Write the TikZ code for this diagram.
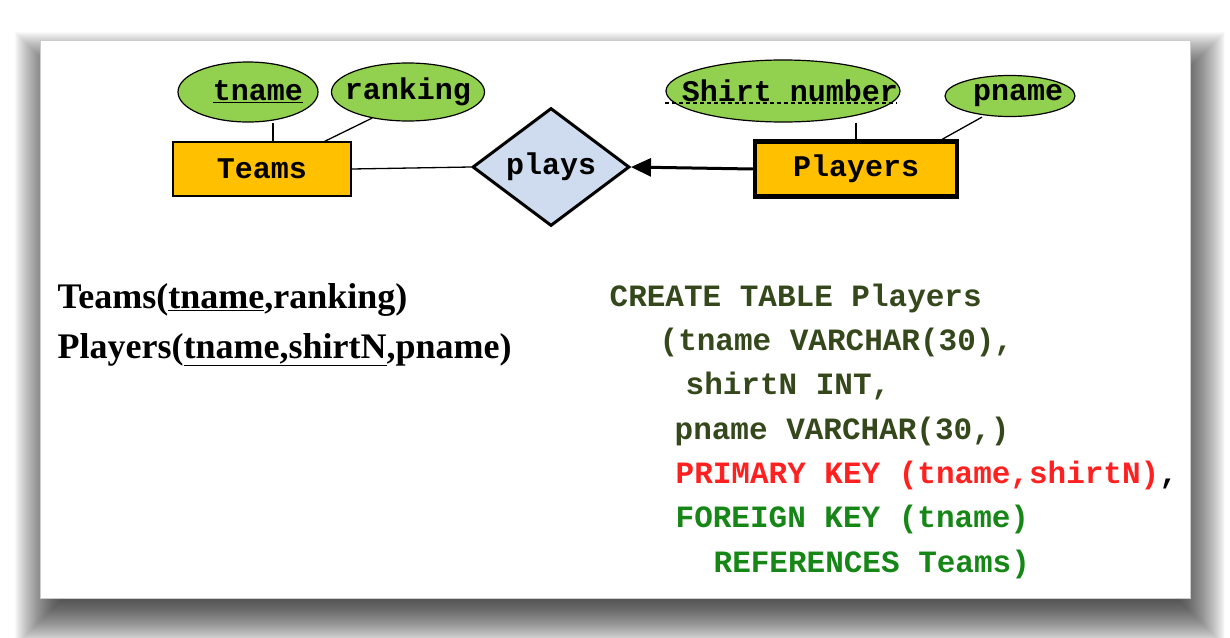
\documentclass[tikz,border=0pt]{standalone}
\usepackage{fontspec}
\setmainfont{Liberation Serif}
\setmonofont{Liberation Mono}
\usetikzlibrary{shapes.geometric,arrows.meta,positioning}

\definecolor{attrgreen}{RGB}{146,208,80}
\definecolor{entorange}{RGB}{255,192,0}
\definecolor{relblue}{RGB}{207,220,239}
\definecolor{sqlolive}{RGB}{52,72,28}
\definecolor{sqlred}{RGB}{255,32,32}
\definecolor{sqlgreen}{RGB}{22,135,22}
\newcommand{\erfont}{\ttfamily\bfseries\fontsize{30}{30}\selectfont}

\begin{document}
\begin{tikzpicture}[x=1pt, y=-1pt, line width=1.3pt,
		attr/.style={draw, ellipse, fill=attrgreen, inner sep=0pt, line width=1.2pt},
		ent/.style={draw, rectangle, fill=entorange, font=\erfont, inner sep=0pt},
		rel/.style={draw, diamond, fill=relblue, font=\erfont, inner sep=0pt, line width=3pt},
		schema/.style={anchor=base west, inner sep=0pt, font=\bfseries\fontsize{36}{36}\selectfont},
		sql/.style={anchor=base west, inner sep=0pt, font=\ttfamily\bfseries\fontsize{31}{31}\selectfont},
		every label/.style={font=\erfont}]
		\useasboundingbox (0,0) rectangle (1230,637);
		% soft shadow and sheet
		\foreach \r in {1,...,46}
			\fill[black, opacity=0.022] (61-\r,78-\r) rectangle (1179+\r,600+\r);
		\fill[white, draw=black!20, line width=1pt] (40,40) rectangle (1190,598);

		% ER diagram
		\node[attr, minimum width=140pt, minimum height=60pt, label={[xshift=10pt]center:\underline{tname}}] (tname) at (248,92) {};
		\node[attr, minimum width=153pt, minimum height=58pt, label={center:ranking}] (ranking) at (408,92) {};
		\node[attr, minimum width=234pt, minimum height=62pt, label={[xshift=7pt]center:Shirt number}] (shirt) at (783,91) {};
		\node[attr, minimum width=130pt, minimum height=41pt, label={[xshift=8pt]center:pname}] (pname) at (1010,96) {};
		\node[ent, minimum width=178pt, minimum height=54pt] (teams) at (262,169) {Teams};
		\node[rel, minimum width=157pt, minimum height=100pt] (plays) at (551,167) {plays};
		\node[ent, minimum width=202pt, minimum height=55pt, line width=4.5pt] (players) at (856,169) {Players};

		\draw ([xshift=11pt]teams.north) -- ([xshift=11pt]teams.north |- tname.south);
		\draw (ranking.216) -- ([xshift=-27pt]teams.north east);
		\draw (teams.east) -- (plays.west);
		\draw[line width=3pt, -{Triangle[length=20pt, width=18pt]}] (players.west) -- (plays.east);
		\draw (players.north |- shirt.south) -- (players.north);
		\draw ([xshift=-28pt]pname.south) -- ([xshift=-17pt]players.north east);
		\draw[line width=1.2pt, dash pattern=on 4pt off 3pt] ([yshift=-12pt]shirt.west) -- ([yshift=-12pt, xshift=-4pt]shirt.east);

		% relational schema
		\node[schema] (teamsrel) at (57,308) {Teams(\underline{tname},ranking)};
		\node[schema] (playersrel) at (57,358) {Players(\underline{tname,shirtN},pname)};

		% SQL
		\node[sql, text=sqlolive] (sql1) at (609,306) {CREATE TABLE Players};
		\node[sql, text=sqlolive] (sql2) at (659,350) {(tname VARCHAR(30),};
		\node[sql, text=sqlolive] (sql3) at (685,394) {shirtN INT,};
		\node[sql, text=sqlolive] (sql4) at (674,439) {pname VARCHAR(30,)};
		\node[sql] (sql5) at (675,483) {\textcolor{sqlred}{PRIMARY KEY (tname,shirtN)},};
		\node[sql, text=sqlgreen] (sql6) at (675,527) {FOREIGN KEY (tname)};
		\node[sql, text=sqlgreen] (sql7) at (713,572) {REFERENCES Teams)};
	\end{tikzpicture}
\end{document}
